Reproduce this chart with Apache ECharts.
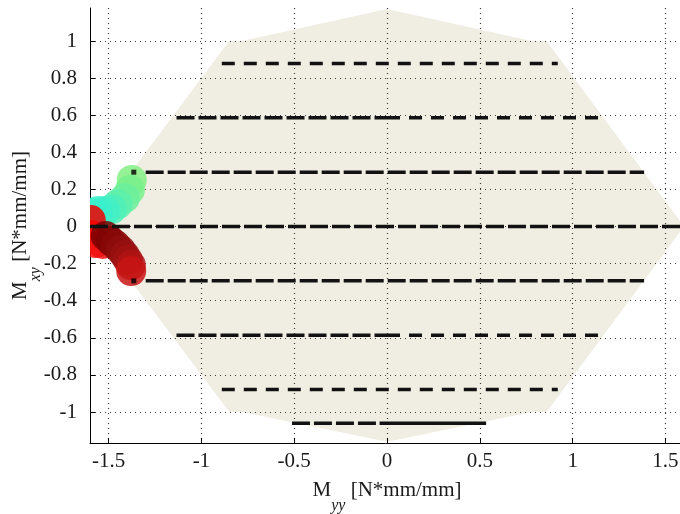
<!DOCTYPE html>
<html><head><meta charset="utf-8">
<script src="https://cdn.jsdelivr.net/npm/echarts@6/dist/echarts.min.js"></script>
<style>html,body{margin:0;padding:0;background:#fff}#c{width:680px;height:514px}</style>
</head><body><div id="c"></div>
<script>
// Axis tick values
const xTicks = [-1.5, -1, -0.5, 0, 0.5, 1, 1.5];
const yTicks = [-1, -0.8, -0.6, -0.4, -0.2, 0, 0.2, 0.4, 0.6, 0.8, 1];

// Envelope polygon (Myy, Mxy)
const envMyy = [-1.6, -0.85, -0.78, 0, 0.78, 0.86, 1.6, 0.86, 0.78, 0, -0.78, -0.85];
const envMxy = [0, 1.0, 1.0, 1.172, 1.0, 1.0, 0, -1.0, -1.0, -1.16, -1.0, -1.0];

// Dashed level lines: Mxy level, Myy start, Myy end
const levelMxy  = [0.879, 0.586, 0.586, 0.293, 0, -0.293, -0.586, -0.586, -0.879, -1.06, -1.06];
const levelFrom = [-0.89, -1.134, 0, -1.30, -1.6, -1.30, -1.134, 0, -0.89, -0.512, -0.04];
const levelTo   = [0.92, 0, 1.159, 1.385, 1.6, 1.385, 0, 1.159, 0.92, -0.04, 0.534];
const levelKind = ['short', 'long', 'short', 'long', 'long', 'long', 'long', 'short', 'short', 'long', 'solid'];

// Line start markers
const markMyy = [-1.364, -1.364];
const markMxy = [0.293, -0.293];

// Load path blobs (Myy, Mxy, colour)
const pathMyy = [-1.375, -1.385, -1.412, -1.450, -1.482, -1.520, -1.558, -1.585,
                 -1.596, -1.596, -1.569, -1.531,
                 -1.515, -1.488, -1.461, -1.434, -1.413, -1.396, -1.380, -1.378];
const pathMxy = [0.251, 0.197, 0.154, 0.121, 0.094, 0.084, 0.084, 0.073,
                 0.035, -0.046, -0.089, -0.094,
                 -0.051, -0.078, -0.100, -0.127, -0.154, -0.181, -0.208, -0.240];
const pathColor = ['#84F084', '#78F08C', '#6CF09C', '#5CF0AC', '#4EF0BA', '#42F0C6', '#3CF0CA', '#38F0CC',
                   '#F00000', '#F80404', '#FF0A0A', '#F01010',
                   '#780000', '#800404', '#880808', '#8E0C0C', '#961010', '#A01212', '#B01414', '#C81414'];

const dashMap = { short: [13, 9], long: [18, 4], solid: 'solid' };
const FONT = 'Liberation Serif';
const fmt = v => String(Math.round(v * 10) / 10);

const nameRich = {
  m: { fontFamily: FONT, fontSize: 21, color: '#1a1a1a', verticalAlign: 'top' },
  s: { fontFamily: FONT, fontSize: 16, fontStyle: 'italic', color: '#1a1a1a', verticalAlign: 'top', padding: [18, 0, 0, 0] }
};

const series = [];
series.push({
  type: 'custom', z: -1, silent: true, clip: true,
  data: envMyy.map((x, i) => [x, envMxy[i]]),
  renderItem(params, api) {
    if (params.dataIndex !== 0) return null;
    const pts = envMyy.map((x, i) => api.coord([x, envMxy[i]]));
    return { type: 'polygon', shape: { points: pts }, style: { fill: '#F0EDE2' } };
  }
});
series.push({
  type: 'custom', z: 2, silent: true, clip: true,
  data: pathMyy.map((x, i) => [x, pathMxy[i]]),
  renderItem(params, api) {
    const p = api.coord([api.value(0), api.value(1)]);
    return { type: 'circle', shape: { cx: p[0], cy: p[1], r: 15 },
             style: { fill: pathColor[params.dataIndex], opacity: 0.85 } };
  }
});
levelMxy.forEach((y, i) => {
  series.push({
    type: 'line', z: 3, silent: true, symbol: 'none', animation: false,
    data: [[levelFrom[i], y], [levelTo[i], y]],
    lineStyle: { color: '#121212', width: 3.5, type: dashMap[levelKind[i]], cap: 'butt' }
  });
});
series.push({
  type: 'scatter', z: 4, silent: true, symbol: 'rect', symbolSize: 5,
  data: markMyy.map((x, i) => [x, markMxy[i]]),
  itemStyle: { color: '#000' }
});

const splitStyle = { show: true, lineStyle: { color: '#3a3a3a', width: 1.2, type: [1, 4] } };

const chart = echarts.init(document.getElementById('c'), null, { renderer: 'canvas' });
chart.setOption({
  animation: false,
  backgroundColor: '#fff',
  grid: { left: 90, right: -4, top: 8, bottom: 71, containLabel: false, outerBoundsMode: 'none' },
  xAxis: {
    type: 'value', min: -1.6, max: 1.6, z: 0,
    axisLine: { show: true, onZero: false, lineStyle: { color: '#000', width: 1 } },
    axisTick: { show: true, inside: true, length: 5, customValues: xTicks, lineStyle: { color: '#000' } },
    axisLabel: { customValues: xTicks, formatter: fmt, fontFamily: FONT, fontSize: 21, color: '#1a1a1a', margin: 8 },
    splitLine: splitStyle,
    name: '{m|M}{s|yy}{m| [N*mm/mm]}',
    nameLocation: 'middle', nameGap: 37, nameMoveOverlap: false,
    nameTextStyle: { rich: nameRich }
  },
  yAxis: {
    type: 'value', min: -1.167, max: 1.178, z: 0,
    axisLine: { show: true, onZero: false, lineStyle: { color: '#000', width: 1 } },
    axisTick: { show: true, inside: true, length: 5, customValues: yTicks, lineStyle: { color: '#000' } },
    axisLabel: { customValues: yTicks, formatter: fmt, fontFamily: FONT, fontSize: 21, color: '#1a1a1a', margin: 13 },
    splitLine: splitStyle,
    name: '{m|M}{s|xy}{m| [N*mm/mm]}',
    nameLocation: 'middle', nameGap: 46, nameRotate: 90, nameMoveOverlap: false,
    nameTextStyle: { rich: nameRich }
  },
  series
});
</script></body></html>
